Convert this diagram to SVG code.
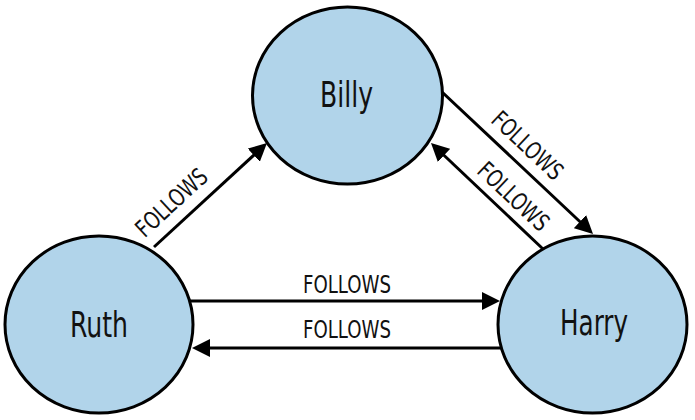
<svg xmlns="http://www.w3.org/2000/svg" width="695" height="420" viewBox="0 0 695 420">
  <style>
    .node { fill: #b1d4ea; stroke: #000; stroke-width: 3; }
    .name { font-family: "DejaVu Sans Condensed", "Liberation Sans", Arial, sans-serif; font-stretch: condensed; font-size: 35px; fill: #111; }
    .lbl { font-family: "DejaVu Sans Condensed", "Liberation Sans", Arial, sans-serif; font-stretch: condensed; font-size: 24px; fill: #111; }
    .edge { stroke: #000; stroke-width: 3; fill: none; marker-end: url(#arrow); }
  </style>
  <defs>
    <marker id="arrow" markerUnits="userSpaceOnUse" markerWidth="18" markerHeight="18" refX="10" refY="9" orient="auto">
      <path d="M0,0 L18,9 L0,18 z" fill="#000"/>
    </marker>
  </defs>
  <rect width="695" height="420" fill="#fff"/>
  <g id="connectors">
    <line class="edge" x1="154" y1="247" x2="261.1" y2="148.4"/>
    <line class="edge" x1="442" y1="92" x2="587.2" y2="228.5"/>
    <line class="edge" x1="543" y1="249" x2="436.8" y2="148.5"/>
    <line class="edge" x1="190" y1="301" x2="492" y2="301"/>
    <line class="edge" x1="502" y1="348" x2="200" y2="348"/>
    <text class="lbl" transform="translate(171,202) rotate(-42.6)" x="-44" y="9" textLength="88" lengthAdjust="spacingAndGlyphs">FOLLOWS</text>
    <text class="lbl" transform="translate(528,145) rotate(43.2)" x="-44" y="9" textLength="88" lengthAdjust="spacingAndGlyphs">FOLLOWS</text>
    <text class="lbl" transform="translate(514,196) rotate(43.4)" x="-44" y="9" textLength="88" lengthAdjust="spacingAndGlyphs">FOLLOWS</text>
    <text class="lbl" x="303" y="293" textLength="88" lengthAdjust="spacingAndGlyphs">FOLLOWS</text>
    <text class="lbl" x="303" y="338" textLength="88" lengthAdjust="spacingAndGlyphs">FOLLOWS</text>
  </g>
  <g id="billy">
    <ellipse class="node" cx="347.5" cy="95.5" rx="95" ry="88.5"/>
    <text class="name" x="320" y="107" textLength="53" lengthAdjust="spacingAndGlyphs">Billy</text>
  </g>
  <g id="ruth">
    <ellipse class="node" cx="99" cy="324.5" rx="94" ry="88.5"/>
    <text class="name" x="70" y="337" textLength="58" lengthAdjust="spacingAndGlyphs">Ruth</text>
  </g>
  <g id="harry">
    <ellipse class="node" cx="592.5" cy="324.5" rx="94.5" ry="88.5"/>
    <text class="name" x="560" y="335" textLength="68" lengthAdjust="spacingAndGlyphs">Harry</text>
  </g>
</svg>
